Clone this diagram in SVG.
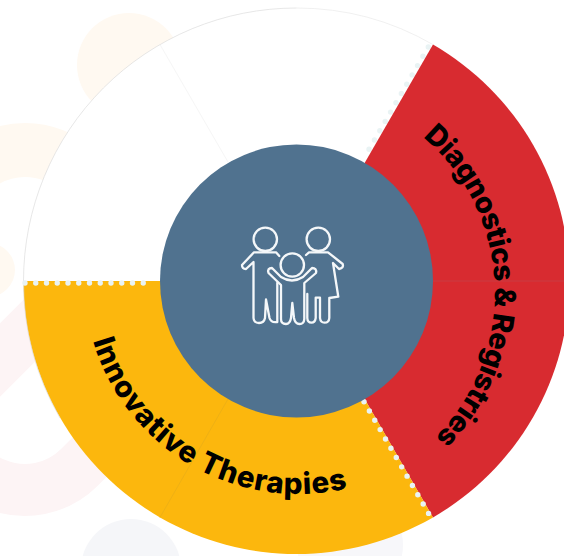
<svg xmlns="http://www.w3.org/2000/svg" width="564" height="556" viewBox="0 0 564 556">
<style>
.lbl{font-family:Inter,"Liberation Sans",sans-serif;font-weight:800;font-size:29.5px;letter-spacing:.85px;fill:#000}
.lbl.r{font-size:29px;letter-spacing:-.5px}
.dots{fill:none;stroke:#e9f3f4;stroke-width:5.4;stroke-linecap:round;stroke-dasharray:0 10.75}
.fig{fill:none;stroke:#f4f7f9;stroke-width:2.3;stroke-linejoin:round;stroke-linecap:round}
.cream{fill:none;stroke:#fff9f1;stroke-width:54}
.pink{fill:none;stroke:#fdf4f5;stroke-width:52}
</style>
<defs>
<path id="p1" d="M423 137A205 205 0 0 1 426 446"/>
<path id="p2" d="M93 341A214 214 0 0 0 404 466"/>
</defs>
<rect width="564" height="556" fill="#fff"/>
<g id="background">
<circle cx="129" cy="65" r="52" fill="#fff9f1"/>
<path class="cream" d="M-52 227A77 77 0 0 1 102 227"/>
<circle cx="-12" cy="270" r="27" fill="#fff9f1"/>
<path class="pink" d="M-20 380L80 280"/>
<path class="pink" d="M130 417L79.400 467.400A77 77 0 0 1 -52 413"/>
<circle cx="131" cy="569" r="50" fill="#f5f6f9"/>
<circle cx="350" cy="545" r="53" fill="#f7f7fa"/>
</g>
<g id="white-segment">
<path d="M23.500 281A273 273 0 0 1 433 44.600L296.500 281Z" fill="#fff"/>
<path d="M160 44.600L228 162" fill="none" stroke="#f6f6f6" stroke-width="1"/>
</g>
<g id="connectors">
<path class="dots" d="M428.300 47L364 158"/>
</g>
<g id="diagnostics">
<path d="M433 44.600A273 273 0 0 1 433 517.400L296.500 281Z" fill="#d82b30"/>
<path d="M433 281H564" stroke="#c93c43" stroke-width="1"/>
<text class="lbl r"><textPath href="#p1">Diagnostics &amp; Registries</textPath></text>
</g>
<g id="therapies">
<path d="M433 517.400A273 273 0 0 1 23.500 281H296.500Z" fill="#fcb70d"/>
<path d="M160 517.400L228 399" stroke="#eeb015" stroke-width="1"/>
<path d="M60 418A273 273 0 0 1 23.500 281A273 273 0 0 1 296.500 8" fill="none" stroke="#d6d6d6" stroke-width=".6"/>
<path d="M296.500 8A273 273 0 0 1 433 44.600" fill="none" stroke="#e6e6e6" stroke-width=".6"/>
<text class="lbl"><textPath href="#p2">Innovative Therapies</textPath></text>
</g>
<g id="dot-rows">
<path class="dots" d="M25 283H154"/>
<path class="dots" d="M364 401.700L429.500 515"/>
</g>
<g id="hub">
<circle cx="296.500" cy="281" r="136.500" fill="#50728f"/>
<g class="fig">
<circle cx="265.300" cy="239.300" r="11.700"/>
<circle cx="318.300" cy="239.300" r="11.700"/>
<circle cx="292.300" cy="265" r="11.700"/>
<path d="M279.300 256L276 252.300H254L242 265Q242 269 246 269L253.500 262V318Q254 323 259 323Q264 323 265 318L266 299.500L269.500 318Q271 323 277.300 322V283"/>
<path d="M281 285V319Q281 324 286 324Q290 324 291 318L292.300 303L294 318Q295 324 299.500 324Q304 324 304.300 319V283L316 273Q317 268 312 268L303 277Q292 284 281 277L272 268Q267 268 268.500 273Z"/>
<path d="M306 255L309 252.300H328L342.700 264Q344 268 339 269L333 263L338.300 296.700L329.300 298V318Q329 322.700 324.500 322.700Q320.500 322.700 320 318V297.700H315.700V318Q315 322.700 311.500 322.700Q307.500 322.700 307.300 318V294"/>
</g>
</g>
</svg>
